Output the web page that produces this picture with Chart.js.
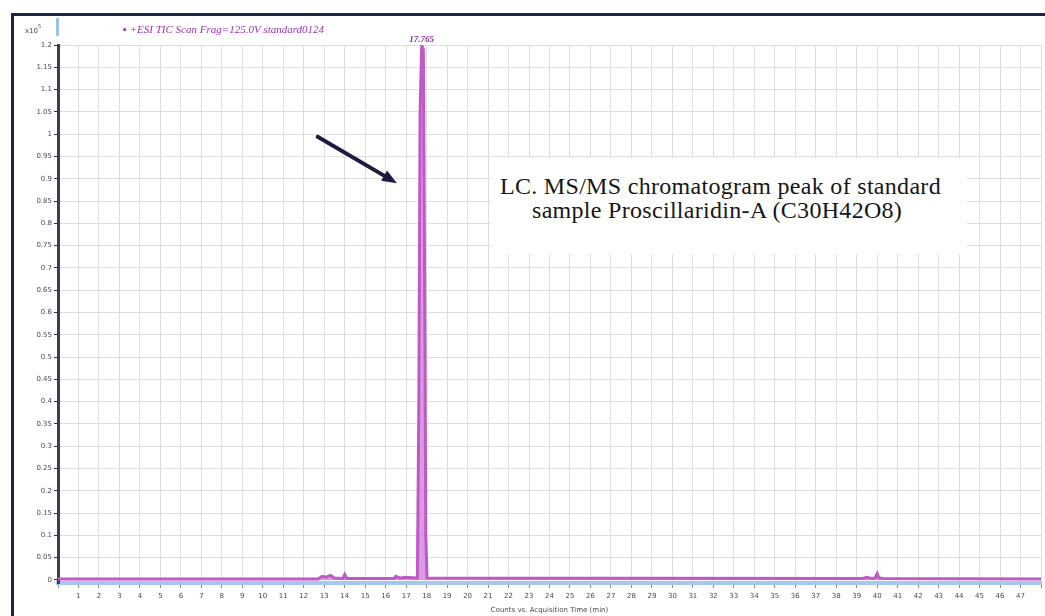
<!DOCTYPE html>
<html>
<head>
<meta charset="utf-8">
<script src="https://cdn.jsdelivr.net/npm/chart.js@4"></script>
<style>
  html, body { margin: 0; padding: 0; background: #fff; overflow: hidden; }
  #wrap { position: relative; width: 1045px; height: 616px; }
  #frame {
    position: absolute; left: 11px; top: 13px; width: 1100px; height: 700px;
    border: 3px solid #1c2448; box-sizing: border-box;
  }
  #chart { position: absolute; left: 0; top: 0; }
  #note {
    position: absolute; left: 491px; top: 158px; width: 476px; height: 96px;
    background: #fff;
    font-family: "Liberation Serif", "DejaVu Serif", serif;
    font-size: 24px; line-height: 24px; letter-spacing: 0.3px; color: #161616;
  }
  #note .l1 { position: absolute; left: 9px; top: 16px; white-space: nowrap; }
  #note .l2 { position: absolute; left: 41px; top: 40px; white-space: nowrap; }
</style>
</head>
<body>
<div id="wrap">
  <div id="frame"></div>
  <canvas id="chart" width="1045" height="616"></canvas>
  <div id="note">
    <span class="l1">LC. MS/MS chromatogram peak of standard</span>
    <span class="l2">sample Proscillaridin-A (C30H42O8)</span>
  </div>
</div>
<script>
(function () {
  'use strict';

  const TRACE   = '#c058c8';
  const FILL    = 'rgba(210,130,218,0.8)';
  const GRID    = '#dedede';
  const TICK    = '#4a4a4a';

  // acquisition time (min) and counts (x10^5)
  const times  = [0, 12.7, 12.9, 13.1, 13.3, 13.5, 13.9, 14.0, 14.1, 16.4, 16.5, 16.7, 16.9,
                  17.55, 17.62, 17.68, 17.76, 17.84, 17.9, 17.96, 18.02,
                  39.3, 39.5, 39.7, 39.9, 40.0, 40.1, 40.3, 48];
  const counts = [0.002, 0.002, 0.008, 0.006, 0.01, 0.004, 0.003, 0.012, 0.003, 0.003, 0.008, 0.004, 0.006,
                  0.004, 0.4, 1.05, 1.2, 1.19, 0.7, 0.1, 0.004,
                  0.003, 0.006, 0.003, 0.004, 0.014, 0.004, 0.003, 0.002];
  const yTicks = [0, 0.05, 0.1, 0.15, 0.2, 0.25, 0.3, 0.35, 0.4, 0.45, 0.5, 0.55, 0.6,
                  0.65, 0.7, 0.75, 0.8, 0.85, 0.9, 0.95, 1, 1.05, 1.1, 1.15, 1.2];

  const peakTime  = 17.76;
  const peakLabel = '17.765';
  const traceName = '+ESI TIC Scan Frag=125.0V standard0124';
  const yUnit     = 'x10';
  const xTitle    = 'Counts vs. Acquisition Time (min)';
  // arrow annotation, in data units
  const arrowFrom = { x: 12.68, y: 0.994 };
  const arrowTo   = { x: 16.55, y: 0.89 };

  const points = times.map((t, i) => ({ x: t, y: counts[i] }));

  const overlay = {
    id: 'overlay',
    afterDatasetsDraw(chart) {
      const { ctx, scales: { x, y } } = chart;
      ctx.save();

      // peak label
      ctx.fillStyle = '#8a2aa0';
      ctx.font = 'italic bold 9px "Liberation Serif", serif';
      ctx.textAlign = 'center';
      ctx.textBaseline = 'bottom';
      ctx.fillText(peakLabel, x.getPixelForValue(peakTime), y.getPixelForValue(1.2) - 1);

      // trace name
      ctx.fillStyle = '#9a30b8';
      ctx.font = 'italic 11px "Liberation Serif", serif';
      ctx.textAlign = 'left';
      ctx.textBaseline = 'middle';
      ctx.fillText('\u25AA ' + traceName, 123, 30);

      // y unit
      ctx.fillStyle = TICK;
      ctx.font = '7px "DejaVu Sans", sans-serif';
      ctx.textAlign = 'right';
      ctx.fillText(yUnit, 38, 31);
      ctx.font = '5px "DejaVu Sans", sans-serif';
      ctx.textAlign = 'left';
      ctx.fillText('5', 38, 27);

      // small marker at top of y axis
      ctx.fillStyle = '#9cc4ee';
      ctx.fillRect(56, 18, 3, 18);

      // arrow
      const x1 = x.getPixelForValue(arrowFrom.x), y1 = y.getPixelForValue(arrowFrom.y);
      const x2 = x.getPixelForValue(arrowTo.x),   y2 = y.getPixelForValue(arrowTo.y);
      const ang = Math.atan2(y2 - y1, x2 - x1);
      ctx.strokeStyle = '#1e1c3c';
      ctx.fillStyle = '#1e1c3c';
      ctx.lineWidth = 4;
      ctx.lineCap = 'round';
      ctx.beginPath();
      ctx.moveTo(x1, y1);
      ctx.lineTo(x2 - 10 * Math.cos(ang), y2 - 10 * Math.sin(ang));
      ctx.stroke();
      ctx.beginPath();
      ctx.moveTo(x2, y2);
      ctx.lineTo(x2 - 16 * Math.cos(ang - 0.38), y2 - 16 * Math.sin(ang - 0.38));
      ctx.lineTo(x2 - 16 * Math.cos(ang + 0.38), y2 - 16 * Math.sin(ang + 0.38));
      ctx.closePath();
      ctx.fill();

      ctx.restore();
    },
  };

  new Chart(document.getElementById('chart'), {
    type: 'line',
    data: {
      datasets: [{
        data: points,
        borderColor: TRACE,
        backgroundColor: FILL,
        borderWidth: 3,
        pointRadius: 0,
        tension: 0,
        fill: 'origin',
      }],
    },
    options: {
      responsive: false,
      animation: false,
      events: [],
      layout: { padding: { top: 45, right: 3, left: 0, bottom: 0 } },
      plugins: { legend: { display: false }, tooltip: { enabled: false } },
      scales: {
        x: {
          type: 'linear',
          min: 0,
          max: 48,
          afterFit: s => { s.height = 33; },
          border: { color: '#a6c8ee', width: 4 },
          grid: { color: GRID, tickColor: '#888', tickLength: 5 },
          ticks: {
            stepSize: 1,
            autoSkip: false,
            maxRotation: 0,
            padding: 4,
            color: TICK,
            font: { family: 'DejaVu Sans', size: 7 },
            callback: v => (v === 0 || v === 48) ? '' : String(v),
          },
          title: {
            display: true,
            text: xTitle,
            color: TICK,
            font: { family: 'DejaVu Sans', size: 7 },
            padding: { top: 0, bottom: 2 },
          },
        },
        y: {
          type: 'linear',
          min: -0.007,
          max: 1.2,
          afterFit: s => { s.width = 58; },
          afterBuildTicks: s => { s.ticks = yTicks.map(v => ({ value: v })); },
          border: { color: '#34405e', width: 3 },
          grid: { color: GRID, tickColor: '#333', tickLength: 4 },
          ticks: {
            autoSkip: false,
            padding: 2,
            color: TICK,
            font: { family: 'DejaVu Sans', size: 7 },
            callback: v => String(+v.toFixed(2)),
          },
        },
      },
    },
    plugins: [overlay],
  });
})();
</script>
</body>
</html>
